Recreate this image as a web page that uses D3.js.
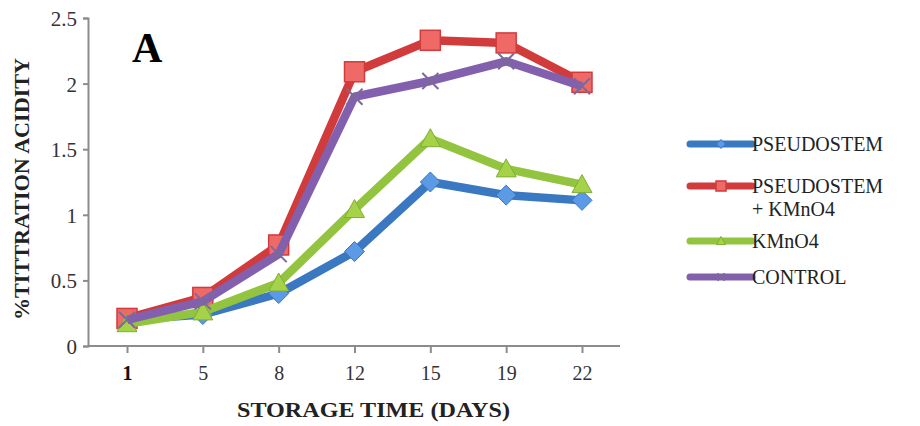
<!DOCTYPE html>
<meta charset="utf-8">
<style>
body { margin: 0; background: #fff; }
text { font-family: "Liberation Serif", "Times New Roman", serif; }
</style>
<svg width="920" height="426"></svg>
<script src="https://d3js.org/d3.v7.min.js"></script>
<script>
var svg = d3.select("svg");
var serif = "'Liberation Serif', 'Times New Roman', serif";

// data
var days = ["1", "5", "8", "12", "15", "19", "22"];
var pseudostem = [0.20, 0.24, 0.40, 0.72, 1.25, 1.15, 1.11];
var pseudoKmno4 = [0.21, 0.37, 0.77, 2.09, 2.33, 2.31, 2.01];
var kmno4 = [0.17, 0.26, 0.48, 1.04, 1.58, 1.35, 1.23];
var control = [0.20, 0.34, 0.70, 1.90, 2.02, 2.17, 1.98];
var yTicks = [0, 0.5, 1, 1.5, 2, 2.5];

var series = [
  {name: ["PSEUDOSTEM"], values: pseudostem, line: "#3a78c2", fill: "#5c9ae6", shape: "diamond"},
  {name: ["PSEUDOSTEM", "+ KMnO4"], values: pseudoKmno4, line: "#d23b3c", fill: "#ef6a66", shape: "square"},
  {name: ["KMnO4"], values: kmno4, line: "#93c43f", fill: "#a6d24a", shape: "triangle"},
  {name: ["CONTROL"], values: control, line: "#8360ad", fill: "#8360ad", shape: "x"}
];

var x = d3.scalePoint().domain(days).range([127, 582]);
var y = d3.scaleLinear().domain([0, 2.5]).range([346, 18]);

// axes
var yAxis = svg.append("g").attr("transform", "translate(88,0)")
    .call(d3.axisLeft(y).tickValues(yTicks).tickSize(5).tickPadding(6).tickFormat(d3.format("")));
var xAxis = svg.append("g").attr("transform", "translate(0,346)")
    .call(d3.axisBottom(x).tickSize(7).tickPadding(13));
xAxis.select(".domain").attr("d", "M88,0H620");
svg.selectAll(".domain, .tick line").attr("stroke", "#8c8c8c").attr("stroke-width", 2);
svg.selectAll("g").attr("font-family", serif);
yAxis.selectAll("text").attr("font-size", 21).attr("fill", "#333").attr("dy", "0.36em");
xAxis.selectAll("text").attr("font-size", 20).attr("fill", "#333");
xAxis.selectAll(".tick").filter(function(d) { return d === "1"; })
    .select("text").attr("font-weight", "bold").attr("fill", "#111");

// titles
svg.append("text").attr("x", 237).attr("y", 417).attr("font-family", serif)
    .attr("font-size", 21).attr("font-weight", "bold").attr("fill", "#222")
    .attr("textLength", 273).attr("lengthAdjust", "spacingAndGlyphs")
    .text("STORAGE TIME (DAYS)");
svg.append("text").attr("transform", "translate(29,320) rotate(-90)").attr("font-family", serif)
    .attr("font-size", 20).attr("font-weight", "bold").attr("fill", "#222")
    .attr("textLength", 262).attr("lengthAdjust", "spacingAndGlyphs")
    .text("%TITTRATION ACIDITY");
svg.append("text").attr("x", 132).attr("y", 62).attr("font-size", 42).attr("font-family", serif)
    .attr("font-weight", "bold").attr("fill", "#000").text("A");

// marker drawing
function marker(g, shape, cx, cy, s, col) {
  var h = s / 2;
  if (shape === "diamond") {
    g.append("path").attr("d", "M" + cx + "," + (cy - h) + "L" + (cx + h) + "," + cy +
        "L" + cx + "," + (cy + h) + "L" + (cx - h) + "," + cy + "Z")
      .attr("fill", col.fill).attr("stroke", col.line).attr("stroke-width", 1);
  } else if (shape === "square") {
    g.append("rect").attr("x", cx - h).attr("y", cy - h).attr("width", s).attr("height", s)
      .attr("fill", col.fill).attr("stroke", col.line).attr("stroke-width", 1.5);
  } else if (shape === "triangle") {
    g.append("path").attr("d", "M" + cx + "," + (cy - h) + "L" + (cx + h) + "," + (cy + h * 0.8) +
        "L" + (cx - h) + "," + (cy + h * 0.8) + "Z")
      .attr("fill", col.fill).attr("stroke", "#7fae33").attr("stroke-width", 1);
  } else {
    h = h * 0.8;
    g.append("path").attr("d", "M" + (cx - h) + "," + (cy - h) + "L" + (cx + h) + "," + (cy + h) +
        "M" + (cx - h) + "," + (cy + h) + "L" + (cx + h) + "," + (cy - h))
      .attr("stroke", "#7a6a9a").attr("stroke-width", 2);
  }
}

var line = d3.line().x(function(d, i) { return x(days[i]); }).y(function(d) { return y(d); });

series.forEach(function(s) {
  var g = svg.append("g");
  g.append("path").datum(s.values).attr("d", line)
    .attr("fill", "none").attr("stroke", s.line).attr("stroke-width", 8.5)
    .attr("stroke-linejoin", "round");
  s.values.forEach(function(v, i) {
    marker(g, s.shape, x(days[i]), y(v), 20, s);
  });
});

// legend
var legY = [144, 186, 241, 277];
series.forEach(function(s, i) {
  var g = svg.append("g");
  var ly = legY[i];
  g.append("line").attr("x1", 690).attr("x2", 752).attr("y1", ly).attr("y2", ly)
    .attr("stroke", s.line).attr("stroke-width", 7).attr("stroke-linecap", "round");
  marker(g, s.shape, 721, ly, s.shape === "square" ? 10 : 9, s);
  s.name.forEach(function(t, j) {
    g.append("text").attr("x", 752).attr("y", ly + j * 23).attr("dy", "0.35em")
      .attr("font-family", serif).attr("font-size", 20).attr("fill", "#222").text(t);
  });
});
</script>
